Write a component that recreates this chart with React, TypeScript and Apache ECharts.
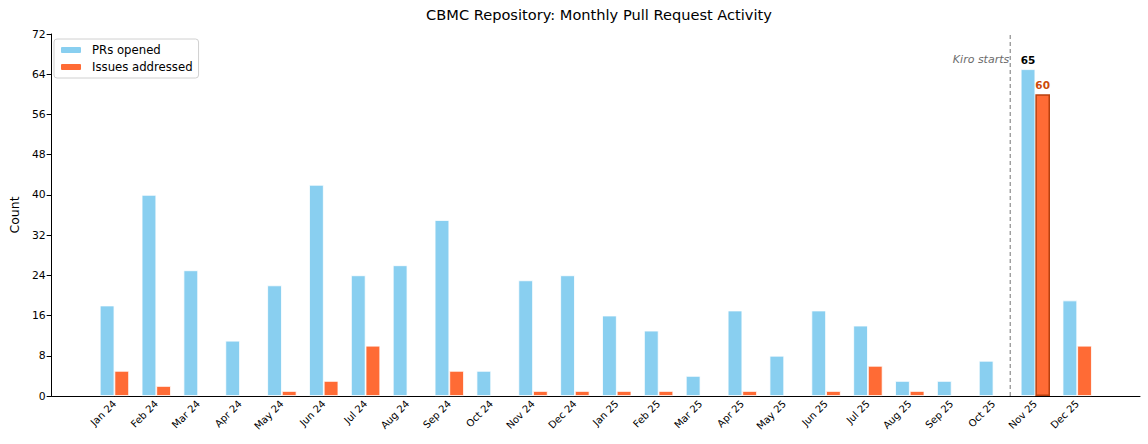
import React, { useEffect, useRef } from 'react';
import * as echarts from 'echarts';

const months = [
  'Jan 24', 'Feb 24', 'Mar 24', 'Apr 24', 'May 24', 'Jun 24', 'Jul 24', 'Aug 24',
  'Sep 24', 'Oct 24', 'Nov 24', 'Dec 24', 'Jan 25', 'Feb 25', 'Mar 25', 'Apr 25',
  'May 25', 'Jun 25', 'Jul 25', 'Aug 25', 'Sep 25', 'Oct 25', 'Nov 25', 'Dec 25',
];
const prsOpened = [18, 40, 25, 11, 22, 42, 24, 26, 35, 5, 23, 24, 16, 13, 4, 17, 8, 17, 14, 3, 3, 7, 65, 19];
const issuesAddressed = [5, 2, 0, 0, 1, 3, 10, 0, 5, 0, 1, 1, 1, 1, 0, 1, 0, 1, 6, 1, 0, 0, 60, 10];
const yTicks = [0, 8, 16, 24, 32, 40, 48, 56, 64, 72];
const kiroMonth = 'Nov 25';

const FONT = 'DejaVu Sans';

const App: React.FC = () => {
  const chartRef = useRef<HTMLDivElement>(null);

  useEffect(() => {
    document.body.style.margin = '0';
    if (!chartRef.current) return;
    const chart = echarts.init(chartRef.current, null, { renderer: 'svg' });

    // pad one empty category on each side, like matplotlib's x margins
    const cats = ['', ...months, ''];
    const kiroIdx = months.indexOf(kiroMonth) + 1;
    const pad = (arr: any[]) => ['-', ...arr, '-'];

    const prData = pad(
      prsOpened.map((v, i) =>
        months[i] === kiroMonth
          ? {
              value: v,
              label: {
                show: true, position: 'top', distance: 4, color: '#000',
                fontWeight: 'bold', fontSize: 10.5, fontFamily: FONT,
              },
            }
          : v
      )
    );
    const issueData = pad(
      issuesAddressed.map((v, i) =>
        months[i] === kiroMonth
          ? {
              value: v,
              itemStyle: { borderColor: '#B8400F', borderWidth: 1.5 },
              label: {
                show: true, position: 'top', distance: 4, color: '#CC4A0A',
                fontWeight: 'bold', fontSize: 10.5, fontFamily: FONT,
              },
            }
          : v === 0 ? '-' : v
      )
    );

    chart.setOption({
      animation: false,
      textStyle: { fontFamily: FONT },
      title: {
        text: 'CBMC Repository: Monthly Pull Request Activity',
        left: 594,
        top: 2,
        textAlign: 'center',
        textStyle: { fontSize: 14.6, fontWeight: 'normal', color: '#000', fontFamily: FONT },
      },
      legend: {
        data: ['PRs opened', 'Issues addressed'],
        orient: 'vertical',
        left: 54,
        top: 39,
        itemWidth: 22,
        itemHeight: 8,
        itemGap: 5,
        padding: [5, 6, 5, 5],
        borderColor: '#d0d0d0',
        borderWidth: 1,
        borderRadius: 3,
        textStyle: { fontSize: 11.7, color: '#000', fontFamily: FONT, padding: [0, 0, 0, 5] },
      },
      grid: { left: 48, right: 8, top: 34, bottom: 48 },
      xAxis: {
        type: 'category',
        data: cats,
        boundaryGap: true,
        axisLine: { lineStyle: { color: '#000', width: 1 } },
        axisTick: {
          alignWithLabel: true,
          length: 5,
          interval: (i: number) => i > 0 && i < cats.length - 1,
          lineStyle: { color: '#000' },
        },
        axisLabel: {
          interval: 0,
          rotate: 45,
          fontSize: 10,
          color: '#000',
          margin: 6,
          fontFamily: FONT,
        },
        splitLine: { show: false },
      },
      yAxis: {
        type: 'value',
        min: yTicks[0],
        max: yTicks[yTicks.length - 1],
        interval: yTicks[1] - yTicks[0],
        name: 'Count',
        nameLocation: 'middle',
        nameGap: 29,
        nameTextStyle: { fontSize: 12.5, color: '#000', fontFamily: FONT },
        axisLine: { show: true, lineStyle: { color: '#000', width: 1 } },
        axisTick: { show: true, length: 5, lineStyle: { color: '#000' } },
        axisLabel: { fontSize: 10.8, color: '#000', margin: 6, fontFamily: FONT },
        splitLine: { show: false },
      },
      series: [
        {
          name: 'PRs opened',
          type: 'bar',
          data: prData,
          barWidth: '35%',
          barGap: '0%',
          itemStyle: { color: '#89CFF0', borderColor: '#ffffff', borderWidth: 0.8 },
        },
        {
          name: 'Issues addressed',
          type: 'bar',
          data: issueData,
          barWidth: '35%',
          barGap: '0%',
          itemStyle: { color: '#FF6B35', borderColor: '#ffffff', borderWidth: 0.8 },
        },
        {
          name: 'kiro',
          type: 'custom',
          data: [0],
          silent: true,
          clip: false,
          z: 5,
          renderItem: (_params: any, api: any) => {
            const a = api.coord([kiroIdx - 1, 0]);
            const b = api.coord([kiroIdx, 0]);
            const top = api.coord([kiroIdx, yTicks[yTicks.length - 1]]);
            const textPt = api.coord([kiroIdx, 67]);
            const x = a[0] + 0.4 * (b[0] - a[0]);
            return {
              type: 'group',
              children: [
                {
                  type: 'line',
                  shape: { x1: x, y1: a[1], x2: x, y2: top[1] },
                  style: { stroke: '#8c8c8c', lineWidth: 1.2, lineDash: [4, 3] },
                },
                {
                  type: 'text',
                  x: x - 1,
                  y: textPt[1],
                  style: {
                    text: 'Kiro starts',
                    align: 'right',
                    verticalAlign: 'middle',
                    fill: '#6b6b6b',
                    fontStyle: 'italic',
                    fontSize: 11,
                    fontFamily: FONT,
                  },
                },
              ],
            };
          },
        },
      ],
    });

    return () => {
      chart.dispose();
    };
  }, []);

  return <div ref={chartRef} style={{ width: 1148, height: 444 }} />;
};

export default App;
